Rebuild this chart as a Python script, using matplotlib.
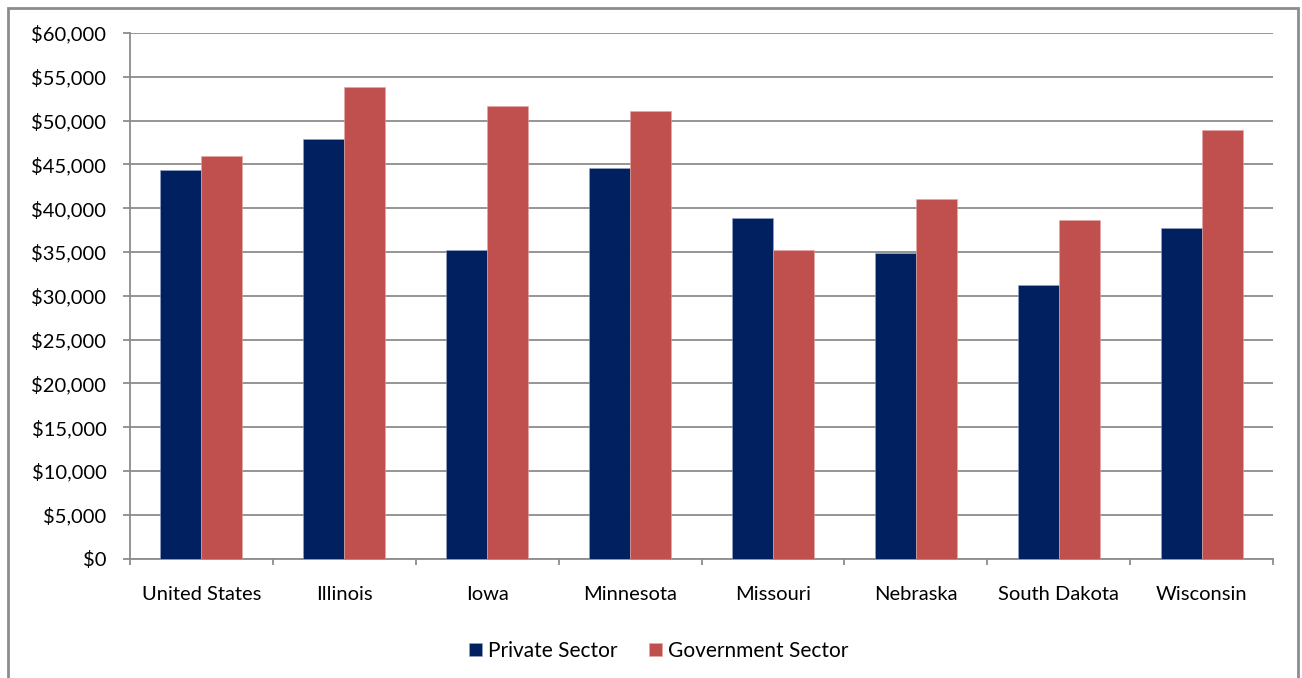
import matplotlib
matplotlib.use("Agg")
import matplotlib.pyplot as plt
import numpy as np
from matplotlib.patches import Rectangle
from matplotlib.ticker import FuncFormatter, MultipleLocator

categories = ["United States", "Illinois", "Iowa", "Minnesota", "Missouri",
              "Nebraska", "South Dakota", "Wisconsin"]
private = [44380, 47950, 35260, 44640, 38900, 34900, 31270, 37700]
government = [45900, 53880, 51680, 51100, 35260, 41000, 38600, 48940]

plt.rcParams['font.family'] = ['Lato', 'DejaVu Sans']

W, H = 1302, 678
fig = plt.figure(figsize=(W / 100, H / 100), dpi=100)
ax = fig.add_axes([130 / W, 1 - 558.5 / H, (1273 - 130) / W, (558.5 - 33) / H])

# outer border
fig.patches.append(Rectangle((8 / W, -0.01), (1298 - 8) / W, (H - 8) / H + 0.01,
                             transform=fig.transFigure, fill=False,
                             edgecolor='#8c8c8c', linewidth=2))

x = np.arange(len(categories))
bw = 0.287
ax.bar(x - bw / 2, private, bw, color='#002060', edgecolor='#9aa6c4', linewidth=0.4,
       label='Private Sector', zorder=3)
ax.bar(x + bw / 2, government, bw, color='#C0504D', edgecolor='#e0a8a6', linewidth=0.4,
       label='Government Sector', zorder=3)

ax.set_xlim(-0.5, len(categories) - 0.5)
ax.set_ylim(0, 60000)
ax.yaxis.set_major_locator(MultipleLocator(5000))
ax.yaxis.set_major_formatter(FuncFormatter(lambda v, p: f"${v:,.0f}"))
ax.grid(axis='y', color='#8c8c8c', linewidth=1.3, zorder=0)
ax.set_axisbelow(True)

ax.set_xticks(np.arange(len(categories) + 1) - 0.5, minor=False)
ax.set_xticklabels([])
ax.set_xticks(x, minor=True)
ax.set_xticklabels(categories, minor=True, fontsize=14.5)
ax.tick_params(axis='x', which='minor', length=0, pad=20, colors='#000000')
ax.tick_params(axis='x', which='major', length=4.5, color='#8c8c8c', width=1.3)
ax.tick_params(axis='y', length=5, color='#8c8c8c', width=1.3, labelsize=14.5, pad=12)

for s in ['top', 'right']:
    ax.spines[s].set_visible(False)
for s in ['left', 'bottom']:
    ax.spines[s].set_color('#8c8c8c')
    ax.spines[s].set_linewidth(1.3)

fig.legend(loc='center', bbox_to_anchor=(659 / W, 1 - 651 / H), ncol=2, frameon=False,
           fontsize=15, handlelength=0.62, handleheight=0.62, handletextpad=0.3,
           columnspacing=1.5)

fig.savefig("out.png", dpi=100)
